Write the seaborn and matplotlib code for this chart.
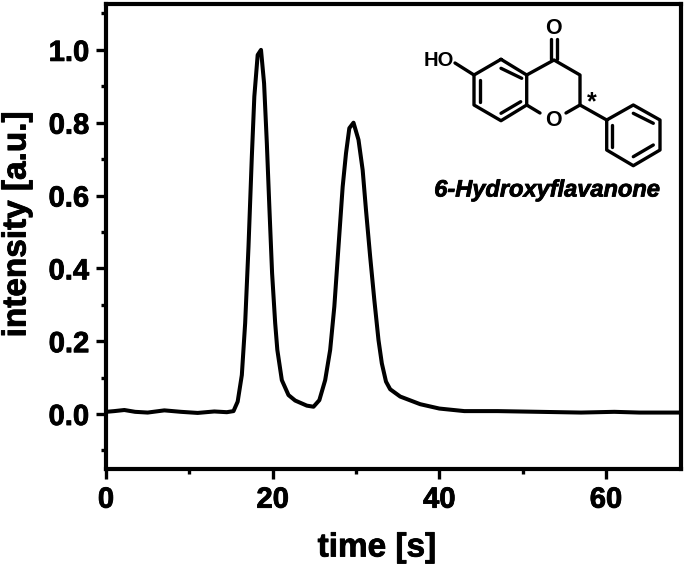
import pandas as pd
import matplotlib
matplotlib.use("Agg")
import matplotlib.pyplot as plt
import matplotlib.patheffects as pe
from matplotlib.ticker import MultipleLocator
import seaborn as sns

# chromatogram
time_s = [0, 1, 2.2, 3.5, 5, 7, 9, 11, 13, 14.5, 15.3, 15.8, 16.3, 16.7, 17.1, 17.5, 17.8, 18.2, 18.6,
          18.97, 19.3, 19.6, 19.93, 20.3, 20.56, 21.1, 21.9, 22.7, 24.1, 24.9, 25.6, 26.3, 26.9, 27.4,
          27.9, 28.4, 28.8, 29.2, 29.7, 30.3, 30.8, 31.2, 31.7, 32.2, 32.7, 33.1, 33.6, 34.1, 35.3,
          37.7, 40, 43, 47, 52, 57, 61, 64, 69]
intensity = [0.006, 0.008, 0.011, 0.006, 0.004, 0.010, 0.006, 0.003, 0.007, 0.005, 0.008, 0.034, 0.107,
             0.25, 0.46, 0.707, 0.872, 0.986, 1.0, 0.908, 0.744, 0.57, 0.387, 0.25, 0.176, 0.093, 0.052,
             0.037, 0.023, 0.02, 0.038, 0.093, 0.176, 0.295, 0.46, 0.624, 0.716, 0.785, 0.80, 0.753,
             0.67, 0.56, 0.432, 0.313, 0.203, 0.139, 0.089, 0.068, 0.048, 0.027, 0.015, 0.008, 0.008,
             0.006, 0.004, 0.006, 0.004, 0.004]

x_ticks = [0, 20, 40, 60]
y_ticks = [0.0, 0.2, 0.4, 0.6, 0.8, 1.0]

# structure drawing, in image pixels
ring_a = [(501, 59.3), (474, 75), (474, 105), (501, 120.7), (526.7, 105), (526.7, 75), (501, 59.3)]
ring_b = [(526.7, 75), (554, 60), (580, 75), (580, 105), (566, 113)]
ring_b2 = [(526.7, 105), (540, 113)]
ring_c = [(606.7, 120), (633.3, 105), (660, 120), (660, 150), (633.3, 165.7), (606.7, 150), (606.7, 120)]
link = [(580, 105), (606.7, 120)]
ho_bond = [(455, 63), (474, 75)]
co_a = [(551, 39), (551, 59)]
co_b = [(557, 39), (557, 59)]
inner = [
    [(501, 68.3), (521.7, 78.3)],
    [(480, 80), (480, 101.7)],
    [(501, 113.3), (520.7, 101.7)],
    [(633.3, 113.3), (653.3, 123.3)],
    [(611.7, 125), (611.7, 146.7)],
    [(633.3, 156.7), (653.3, 145)],
]

df = pd.DataFrame({"time": time_s, "intensity": intensity})

sns.set_theme(style="ticks")
plt.rcParams["font.family"] = ["Liberation Sans", "DejaVu Sans"]
plt.rcParams["font.weight"] = "bold"

fig = plt.figure(figsize=(6.87, 5.68), dpi=100)
ax = fig.add_axes([106 / 687, (568 - 469) / 568, (681 - 106) / 687, (469 - 4) / 568])

sns.lineplot(data=df, x="time", y="intensity", color="black", linewidth=2.9, ax=ax, errorbar=None)

heavy = [pe.withStroke(linewidth=0.6, foreground="black")]

ax.set_xlim(0, 69)
ax.set_ylim(-0.151, 1.126)
ax.set_xticks(x_ticks)
ax.set_yticks(y_ticks)
ax.xaxis.set_minor_locator(MultipleLocator(10))
ax.yaxis.set_minor_locator(MultipleLocator(0.2, offset=0.1))
ax.tick_params(axis="both", which="major", length=7, width=2.4, labelsize=21, pad=5, color="black", labelcolor="black")
ax.tick_params(axis="both", which="minor", length=3.5, width=2.4, color="black")
for lab in ax.get_xticklabels() + ax.get_yticklabels():
    lab.set_path_effects(heavy)

ax.set_xlabel("time [s]", fontsize=24, fontweight="bold", color="black", path_effects=heavy)
ax.set_ylabel("intensity [a.u.]", fontsize=24, fontweight="bold", color="black", path_effects=heavy)
# label positions, in figure pixels
ax.xaxis.set_label_coords(377 / 687, 1 - 548 / 568, transform=fig.transFigure)
ax.yaxis.set_label_coords(17 / 687, 1 - 224 / 568, transform=fig.transFigure)
ax.xaxis.label.set_va("center")
ax.yaxis.label.set_va("center")

for side in ax.spines.values():
    side.set_linewidth(3)
    side.set_color("black")

# overlay axes in pixels for the molecule
mol = fig.add_axes([0, 0, 1, 1], facecolor="none")
mol.set_xlim(0, 687)
mol.set_ylim(568, 0)
mol.axis("off")
for seg in [ring_a, ring_b, ring_b2, ring_c, link, ho_bond, co_a, co_b] + inner:
    xs, ys = zip(*seg)
    mol.plot(xs, ys, color="black", lw=2.4, solid_capstyle="round", solid_joinstyle="round")
mol.text(553.5, 28, "O", fontsize=15.5, ha="center", va="center", color="black", fontweight="bold")
mol.text(553.5, 120, "O", fontsize=15.5, ha="center", va="center", color="black", fontweight="bold")
mol.text(439, 60, "HO", fontsize=14.5, ha="center", va="center", color="black", fontweight="bold")
mol.text(592, 102, "*", fontsize=18, ha="center", va="center", color="black", fontweight="bold")
mol.text(547, 190, "6-Hydroxyflavanone", fontsize=17, ha="center", va="center", color="black",
         fontweight="bold", fontstyle="italic", path_effects=heavy)

fig.savefig("out.png", dpi=100)
